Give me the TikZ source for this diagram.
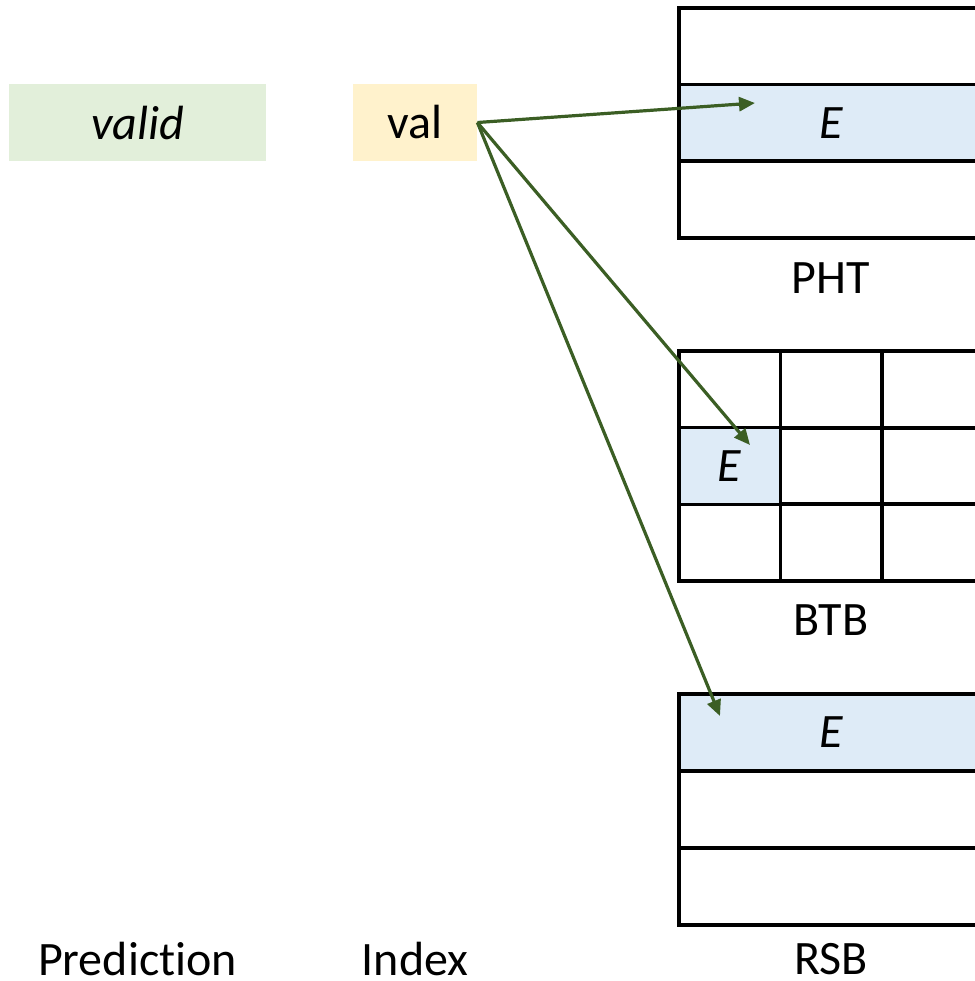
\documentclass[tikz,border=0pt]{standalone}
\usepackage{fontspec}
\setmainfont{Carlito}[Ligatures=NoCommon]
\usetikzlibrary{arrows.meta}
\definecolor{predGreen}{HTML}{E2EFDA}
\definecolor{idxYellow}{HTML}{FFF2CC}
\definecolor{hitBlue}{HTML}{DEEBF7}
\definecolor{arrowGreen}{HTML}{3B5E24}

\begin{document}
\begin{tikzpicture}[x=0.5pt,y=-0.5pt,
        txt/.style={font=\fontsize{24}{28}\selectfont,inner sep=0pt},
        field/.style={txt,minimum height=38.5pt},
        row/.style={txt,draw,line width=1.8pt,minimum width=152pt,minimum height=38.5pt},
        slot/.style={txt,draw,line width=1.8pt,minimum width=50.75pt,minimum height=38.5pt},
        arrow/.style={-{Triangle[length=8pt,width=7pt]},line width=1.6pt,draw=arrowGreen,fill=arrowGreen}
      ]
        \useasboundingbox (0,0) rectangle (975,981);
        \clip (0,0) rectangle (975,981);
        % prediction and index fields
        \node[field,fill=predGreen,minimum width=128.5pt] (pred) at (137.5,122.5) {\textit{valid}};
        \node[field,fill=idxYellow,minimum width=62pt] (idx) at (415,122.5) {val};
        \node[txt] (predlbl) at (137.5,959) {Prediction};
        \node[txt] (idxlbl) at (415,959) {Index};
        % PHT
        \node[row] (pht1) at (831,46.5) {};
        \node[row,fill=hitBlue] (pht2) at (831,123) {\textit{E}};
        \node[row] (pht3) at (831,199.5) {};
        \node[txt] (phtlbl) at (831,278) {PHT};
        % BTB
        \foreach \r in {1,2,3}
          \foreach \c in {1,2,3}
            \node[slot] (btb\r\c) at ({679+101.5*(\c-0.5)},{351+76.7*(\r-0.5)}) {};
        \node[slot,fill=hitBlue] (btbhit) at (btb21) {\textit{E}};
        \node[txt] (btblbl) at (831,620) {BTB};
        % RSB
        \node[row,fill=hitBlue] (rsb1) at (831,732.5) {\textit{E}};
        \node[row] (rsb2) at (831,809.5) {};
        \node[row] (rsb3) at (831,886.5) {};
        \node[txt] (rsblbl) at (831,959) {RSB};
        % lookups
        \coordinate (phtend) at (755,103);
        \coordinate (btbend) at (750,445);
        \coordinate (rsbend) at (720,716);
        \draw[arrow] (idx.east) -- (phtend);
        \draw[arrow] (idx.east) -- (btbend);
        \draw[arrow] (idx.east) -- (rsbend);
      \end{tikzpicture}
\end{document}
